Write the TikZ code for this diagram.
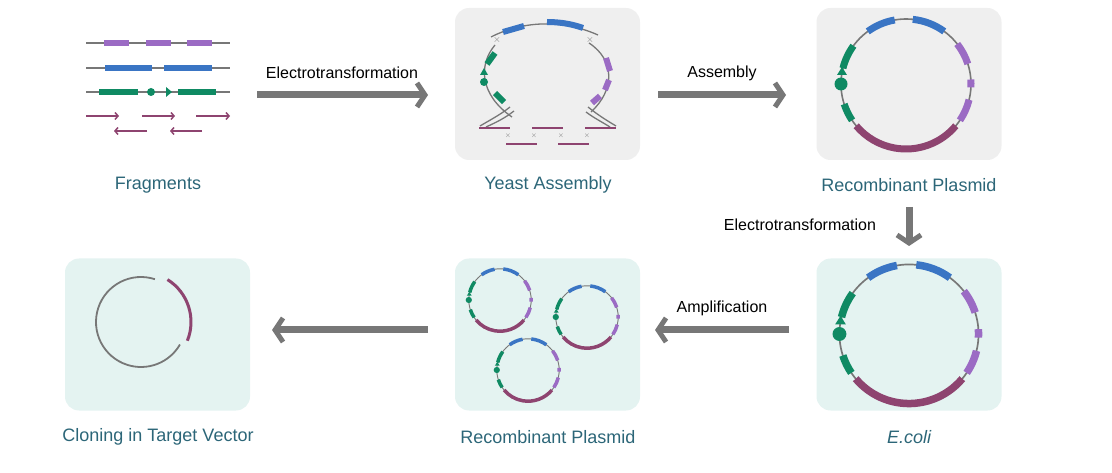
\documentclass[tikz,border=0pt]{standalone}
\usepackage{fontspec}
\setmainfont{Liberation Sans}
\usetikzlibrary{arrows.meta}
\definecolor{cblue}{HTML}{3A75C4}
\definecolor{cpurp}{HTML}{9B6BC4}
\definecolor{cgreen}{HTML}{0F8A63}
\definecolor{cmar}{HTML}{8E4470}
\definecolor{cgray}{HTML}{777777}
\definecolor{boxg}{HTML}{EFEFEF}
\definecolor{boxt}{HTML}{E4F3F1}
\definecolor{clab}{HTML}{2C6678}
\tikzset{
 panel/.style={rounded corners=14pt,minimum width=185pt,minimum height=152pt,draw=none},
 lab/.style={text=clab,font=\fontsize{18}{21}\selectfont},
 alab/.style={font=\fontsize{16}{19}\selectfont},
 bigarrow/.style={draw=cgray,line width=7pt,-{Straight Barb[length=8pt,width=24pt,line width=5pt]}},
 seg/.style={line width=#1,line cap=butt},
}
\newcommand\myplasmid[4]{% cx cy scale width
\begin{scope}[shift={(#1,#2)},scale=#3]
 \draw[cgray,line width=1.3pt*#3+0.3pt] (0,0) circle[radius=65pt];
 \foreach \a/\b/\c in {100/126/cblue,54/84/cblue,18/38/cpurp,-3/4/cpurp,-14/-34/cpurp,-40/-140/cmar,144/166/cgreen,198/214/cgreen}
   \draw[\c,line width=#4] (\a:65pt) arc[start angle=\a,end angle=\b,radius=65pt];
 \fill[cgreen] (180:65pt) circle[radius=6.5pt];
 \fill[cgreen] (-69pt,9pt) -- (-59pt,9pt) -- (-64pt,17pt) -- cycle;
\end{scope}}
\begin{document}
\begin{tikzpicture}[x=1pt,y=-1pt]
\useasboundingbox (0,0) rectangle (1112,473);
% panels
\node[panel,fill=boxg] (ya) at (547.5,84) {};
\node[panel,fill=boxg] (rp) at (909,84) {};
\node[panel,fill=boxt] (ec) at (909,334.5) {};
\node[panel,fill=boxt] (rp2) at (547.5,334.5) {};
\node[panel,fill=boxt] (cv) at (157.5,334.5) {};
% labels
\node[lab] (l1) at (158,185) {Fragments};
\node[lab] (l2) at (548,185) {Yeast Assembly};
\node[lab] (l3) at (909,185) {Recombinant Plasmid};
\node[lab] (l4) at (158,437) {Cloning in Target Vector};
\node[lab] (l5) at (548,437) {Recombinant Plasmid};
\node[lab] (l6) at (909,437) {\itshape E.coli};
% arrows
\coordinate (a1s) at (257,95); \coordinate (a1e) at (428,95);
\coordinate (a2s) at (658,95); \coordinate (a2e) at (786,95);
\coordinate (a3s) at (909,207); \coordinate (a3e) at (909,246);
\coordinate (a4s) at (789,330); \coordinate (a4e) at (655,330);
\coordinate (a5s) at (428,330); \coordinate (a5e) at (272,330);
\draw[bigarrow] (a1s) -- (a1e);
\draw[bigarrow] (a2s) -- (a2e);
\draw[bigarrow] (a3s) -- (a3e);
\draw[bigarrow] (a4s) -- (a4e);
\draw[bigarrow] (a5s) -- (a5e);
\node[alab] (t1) at (342,73) {Electrotransformation};
\node[alab] (t2) at (722,73) {Assembly};
\node[alab] (t3) at (800,225) {Electrotransformation};
\node[alab] (t4) at (722,308) {Amplification};
% fragments
\draw[cgray,line width=1.3pt] (86,43) -- (230,43) (86,68) -- (230,68) (86,92) -- (230,92);
\foreach \a/\b in {104/129,146/171,187/212} \draw[cpurp,seg=6pt] (\a,43) -- (\b,43);
\foreach \a/\b in {105/152,164/212} \draw[cblue,seg=6pt] (\a,68) -- (\b,68);
\foreach \a/\b in {99/138,178/216} \draw[cgreen,seg=6pt] (\a,92) -- (\b,92);
\fill[cgreen] (151,92) circle[radius=4pt];
\fill[cgreen] (166,87) -- (172,92) -- (166,97) -- cycle;
\foreach \a/\b in {86/119,142/175,196/230} \draw[cmar,line width=1.5pt,-{Straight Barb[length=3pt,width=7pt]}] (\a,116) -- (\b,116);
\foreach \a/\b in {147/114,202/170} \draw[cmar,line width=1.5pt,-{Straight Barb[length=3pt,width=7pt]}] (\a,131) -- (\b,131);
% yeast assembly
\draw[cgray,line width=1.3pt] (491,37) .. controls (520,22) and (560,18) .. (598,35);
\draw[cblue,seg=6pt] (503,32) -- (524,26);
\draw[cblue,seg=6pt] (547,22) .. controls (560,22) and (572,24) .. (583,28);
\foreach \x in {497,590} \node[cgray,font=\bfseries,inner sep=0] (cx\x) at (\x,40) {$\times$};
\draw[cgray,line width=1.3pt] (495,45) .. controls (478,65) and (480,95) .. (512,117);
\draw[cgreen,seg=6pt] (495,53) -- (487,64);
\fill[cgreen] (480,75) -- (488,75) -- (484,68) -- cycle;
\fill[cgreen] (484,82) circle[radius=4pt];
\draw[cgreen,seg=6pt] (495,93) -- (504,102);
\draw[cgray,line width=1.3pt] (589,43) .. controls (615,60) and (615,90) .. (591,112);
\draw[cpurp,seg=6pt] (606,58) -- (610,71);
\draw[cpurp,seg=6pt] (609,80) -- (605,90);
\draw[cpurp,seg=6pt] (600,96) -- (592,103);
\draw[cgray,line width=1.3pt] (510,107) .. controls (500,115) and (490,120) .. (480,126);
\draw[cgray,line width=1.3pt] (514,111) .. controls (505,118) and (497,122) .. (486,127);
\draw[cgray,line width=1.3pt] (588,107) .. controls (598,115) and (606,120) .. (616,126);
\draw[cgray,line width=1.3pt] (586,112) .. controls (594,118) and (602,122) .. (610,127);
\foreach \a/\b in {479/510,532/563,585/616} \draw[cmar,line width=1.8pt] (\a,128) -- (\b,128);
\foreach \a/\b in {506/537,558/589} \draw[cmar,line width=1.8pt] (\a,144) -- (\b,144);
\foreach \x in {508,534,561,587} \node[cgray,font=\scriptsize,inner sep=0] (xm\x) at (\x,136) {$\times$};
% plasmids
\myplasmid{906}{84}{1}{7pt}
\myplasmid{909}{334}{1.07}{7.5pt}
\myplasmid{500}{300}{0.48}{3.5pt}
\myplasmid{587}{317}{0.48}{3.5pt}
\myplasmid{528}{370}{0.48}{3.5pt}
% cloning vector
\begin{scope}[shift={(141,322)}]
\draw[cgray,line width=1.8pt] (72:45pt) arc[start angle=72,end angle=330,radius=45pt];
\draw[cmar,line width=3pt] (58:50pt) arc[start angle=58,end angle=-22,radius=50pt];
\end{scope}
\end{tikzpicture}
\end{document}
